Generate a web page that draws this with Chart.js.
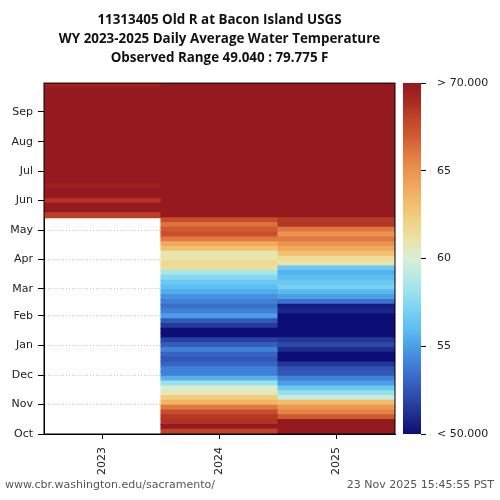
<!DOCTYPE html>
<html>
<head>
<meta charset="utf-8">
<script src="https://cdn.jsdelivr.net/npm/chart.js@4.4.1/dist/chart.umd.min.js"></script>
<style>
  body { margin: 0; background: #fff; }
  #wrap { position: relative; width: 500px; height: 500px; overflow: hidden; }
  #heatChart { position: absolute; left: 0; top: 0; }
  #cbarChart { position: absolute; left: 395px; top: 0; }
  .foot { position: absolute; top: 478px; font: 11px "DejaVu Sans", sans-serif; line-height: 13px; color: #555; white-space: nowrap; }
</style>
</head>
<body>
<div id="wrap">
  <canvas id="heatChart" width="500" height="500"></canvas>
  <canvas id="cbarChart" width="105" height="500"></canvas>
  <div class="foot" style="left:5px">www.cbr.washington.edu/sacramento/</div>
  <div class="foot" style="right:6px">23 Nov 2025 15:45:55 PST</div>
</div>
<script>
// water years on x, day of water year (from 1 Oct) on y
const years = ['2023', '2024', '2025'];
const monthNames = ['Oct', 'Nov', 'Dec', 'Jan', 'Feb', 'Mar', 'Apr', 'May', 'Jun', 'Jul', 'Aug', 'Sep'];
const monthStartDays = [0, 31, 61, 92, 123, 151, 182, 212, 243, 273, 304, 335];
const binDays = 5; // each value below = mean temp (F) of a 5 day block, 73 blocks per year

// WY 2023: no data before mid May
const wy2023 = [
  null, null, null, null, null, null, null, null, null, null,
  null, null, null, null, null, null, null, null, null, null,
  null, null, null, null, null, null, null, null, null, null,
  null, null, null, null, null, null, null, null, null, null,
  null, null, null, null, null,
  68.2, 70.8, 71.5, 68.6, 71.2, 72.0, 69.6, 72.5, 73.4, 74.0,
  74.8, 75.3, 76.0, 76.4, 77.0, 77.3, 76.8, 76.5, 75.9, 75.4,
  74.8, 74.2, 73.6, 73.0, 72.4, 71.8, 71.2, 69.4
];
const wy2024 = [
  68.0, 70.4, 68.6, 68.4, 67.6, 66.0, 63.6, 62.4, 60.6, 60.2,
  58.0, 55.6, 54.0, 54.0, 53.0, 52.5, 53.0, 54.0, 52.8, 51.8,
  49.8, 49.6, 51.5, 52.6, 55.0, 54.0, 53.4, 54.0, 54.6, 55.4,
  56.0, 56.6, 57.5, 58.5, 61.4, 61.6, 61.0, 60.8, 63.0, 64.0,
  66.0, 67.5, 67.0, 66.2, 67.6,
  70.4, 71.2, 72.0, 72.8, 73.5, 74.2, 75.0, 75.8, 76.5, 77.2,
  77.8, 78.4, 79.0, 79.8, 79.2, 78.6, 78.0, 77.6, 77.0, 76.4,
  75.8, 75.0, 74.4, 73.6, 73.0, 72.4, 71.8, 71.2
];
const wy2025 = [
  72.0, 71.6, 71.0, 67.0, 65.6, 64.8, 63.2, 59.4, 58.0, 56.6,
  55.0, 54.0, 52.6, 52.4, 51.4, 50.0, 49.8, 51.0, 52.0, 51.4,
  49.4, 49.2, 49.5, 49.3, 49.8, 50.8, 50.5, 53.5, 55.0, 55.8,
  57.0, 56.5, 56.0, 55.6, 56.6, 61.0, 61.5, 63.0, 64.0, 65.0,
  66.0, 65.0, 66.0, 68.5, 68.4,
  70.8, 71.6, 72.4, 73.2, 74.0, 74.8, 75.6, 76.2, 76.8, 77.4,
  77.8, 78.2, 78.0, 77.6, 77.2, 76.8, 76.4, 76.0, 75.4, 74.8,
  74.2, 73.6, 73.0, 72.4, 71.8, 71.4, 71.0, 70.6
];
const series = [wy2023, wy2024, wy2025];

// colour scale, clipped at 50 and 70
const cmapValues = [50, 51, 52, 53, 54, 55, 56, 57, 58, 59, 60, 61, 62, 63, 64, 65, 66, 67, 68, 69, 70];
const cmapColors = [
  '#0d0d76', '#1e2c8c', '#2c48a8', '#3664c4', '#4080d8', '#4c9ee6', '#5cbff2', '#78d0f2', '#98e0ee', '#b8eae4',
  '#d8efd4', '#eae4a8', '#f0d488', '#f2c06e', '#f0aa5e', '#ea9450', '#e07840', '#d05a30', '#c0442a', '#a8281f',
  '#951a20'
];

function hexToRgb(h) {
  return [parseInt(h.slice(1, 3), 16), parseInt(h.slice(3, 5), 16), parseInt(h.slice(5, 7), 16)];
}

function tempColor(v) {
  if (v == null) return 'rgba(0,0,0,0)';
  const lo = cmapValues[0], hi = cmapValues[cmapValues.length - 1];
  const t = Math.min(Math.max(v, lo), hi);
  let i = 0;
  while (i < cmapValues.length - 2 && t > cmapValues[i + 1]) i++;
  const f = (t - cmapValues[i]) / (cmapValues[i + 1] - cmapValues[i]);
  const a = hexToRgb(cmapColors[i]), b = hexToRgb(cmapColors[i + 1]);
  const c = a.map((x, j) => Math.round(x + (b[j] - x) * f));
  return 'rgb(' + c.join(',') + ')';
}

document.addEventListener('DOMContentLoaded', function () {
  const font = { family: 'DejaVu Sans', size: 11 };

  // one dataset per 5-day block, each holding a floating bar for every year
  const nBins = wy2024.length;
  const datasets = [];
  for (let k = 0; k < nBins; k++) {
    datasets.push({
      data: series.map(s => s[k] == null ? null : [k * binDays, (k + 1) * binDays]),
      backgroundColor: series.map(s => tempColor(s[k])),
      borderWidth: 0,
      inflateAmount: 0.5,
      grouped: false,
      barPercentage: 1,
      categoryPercentage: 1
    });
  }

  const frame = {
    id: 'frame',
    afterDraw(chart) {
      const { ctx, chartArea: a } = chart;
      ctx.save();
      ctx.strokeStyle = '#000';
      ctx.lineWidth = 1;
      ctx.strokeRect(a.left, a.top, a.right - a.left, a.bottom - a.top);
      ctx.restore();
    }
  };

  new Chart(document.getElementById('heatChart').getContext('2d'), {
    type: 'bar',
    data: { labels: years, datasets: datasets },
    options: {
      responsive: false,
      animation: false,
      layout: { padding: { top: 0, right: 105, bottom: 0, left: 0 } },
      plugins: {
        legend: { display: false },
        tooltip: { enabled: false },
        title: {
          display: true,
          fullSize: false,
          text: ['11313405 Old R at Bacon Island USGS', 'WY 2023-2025 Daily Average Water Temperature', 'Observed Range 49.040 : 79.775 F'],
          color: '#111',
          font: { family: 'Open Sans', size: 13.4, weight: 'bold', lineHeight: 1.42 },
          padding: { top: 11, bottom: 15 }
        }
      },
      scales: {
        x: {
          offset: true,
          grid: { offset: false, drawOnChartArea: false, tickLength: 5, color: '#000' },
          border: { color: '#000', width: 1 },
          ticks: { minRotation: 90, maxRotation: 90, autoSkip: false, padding: 8, color: '#222', font: font },
          afterFit: s => { s.height = 66; }
        },
        y: {
          min: 0,
          max: 365,
          z: 1,
          afterBuildTicks: axis => { axis.ticks = monthStartDays.map(v => ({ value: v })); },
          ticks: { callback: (v, i) => monthNames[i], padding: 5, color: '#222', font: font },
          grid: { color: 'rgba(90,90,90,0.35)', tickColor: '#000', tickLength: 6 },
          border: { color: '#000', width: 1, dash: [1, 2] },
          afterFit: s => { s.width = 44; }
        }
      }
    },
    plugins: [frame]
  });

  const gradientBar = {
    id: 'gradientBar',
    beforeDatasetsDraw(chart) {
      const { ctx, chartArea: a, scales } = chart;
      const y = scales.y;
      const g = ctx.createLinearGradient(0, y.getPixelForValue(50), 0, y.getPixelForValue(70));
      cmapValues.forEach((v, i) => g.addColorStop((v - 50) / 20, cmapColors[i]));
      ctx.save();
      ctx.fillStyle = g;
      ctx.fillRect(a.left, a.top, a.right - a.left, a.bottom - a.top);
      ctx.restore();
    }
  };

  new Chart(document.getElementById('cbarChart').getContext('2d'), {
    type: 'scatter',
    data: { datasets: [] },
    options: {
      responsive: false,
      animation: false,
      layout: { padding: { top: 83, right: 0, bottom: 66, left: 8 } },
      plugins: { legend: { display: false }, tooltip: { enabled: false } },
      scales: {
        x: { display: false, min: 0, max: 1 },
        y: {
          position: 'right',
          min: 50,
          max: 70,
          ticks: {
            stepSize: 5,
            padding: 11,
            color: '#222',
            font: font,
            callback: v => v === 70 ? '> 70.000' : (v === 50 ? '< 50.000' : v)
          },
          grid: { drawOnChartArea: false, tickLength: 5, color: '#000' },
          border: { display: false },
          afterFit: s => { s.width = 79; }
        }
      }
    },
    plugins: [gradientBar]
  });
});
</script>
</body>
</html>
